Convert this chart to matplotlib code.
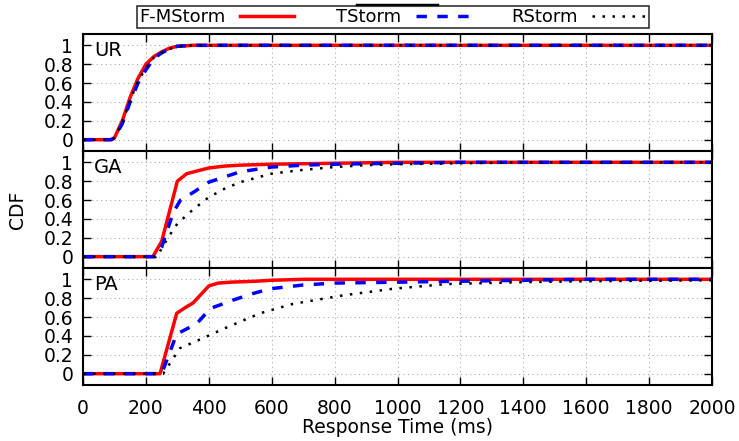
import numpy as np
import matplotlib
matplotlib.use("Agg")
from matplotlib import pyplot as plt
from matplotlib.lines import Line2D

# Series (response time in ms, CDF value)
ur_fm_x = [0, 90, 100, 125, 150, 175, 200, 225, 250, 275, 300, 350, 2000]
ur_fm_y = [0, 0, 0.02, 0.2, 0.45, 0.65, 0.8, 0.88, 0.93, 0.97, 0.99, 1.0, 1.0]
ur_t_x = [0, 90, 100, 125, 150, 175, 200, 225, 250, 275, 300, 350, 2000]
ur_t_y = [0, 0, 0.02, 0.17, 0.4, 0.6, 0.74, 0.86, 0.92, 0.96, 0.99, 1.0, 1.0]
ur_r_x = [0, 90, 100, 125, 150, 175, 200, 225, 250, 275, 300, 350, 2000]
ur_r_y = [0, 0, 0.02, 0.18, 0.42, 0.62, 0.76, 0.87, 0.92, 0.96, 0.99, 1.0, 1.0]

ga_fm_x = [0, 222, 250, 300, 330, 400, 450, 500, 600, 800, 1000, 2000]
ga_fm_y = [0, 0, 0.16, 0.8, 0.88, 0.94, 0.96, 0.97, 0.98, 0.99, 1.0, 1.0]
ga_t_x = [0, 230, 250, 287, 310, 350, 400, 500, 600, 700, 800, 1000, 1200, 2000]
ga_t_y = [0, 0, 0.1, 0.47, 0.6, 0.68, 0.79, 0.9, 0.95, 0.97, 0.98, 0.99, 1.0, 1.0]
ga_r_x = [0, 235, 270, 300, 350, 400, 450, 500, 600, 700, 800, 900, 1000, 1200, 1400, 2000]
ga_r_y = [0, 0, 0.2, 0.35, 0.5, 0.63, 0.72, 0.79, 0.88, 0.92, 0.95, 0.97, 0.98, 0.99, 1.0, 1.0]

pa_fm_x = [0, 245, 298, 325, 350, 400, 430, 470, 550, 600, 700, 2000]
pa_fm_y = [0, 0, 0.64, 0.7, 0.75, 0.93, 0.96, 0.97, 0.98, 0.99, 1.0, 1.0]
pa_t_x = [0, 250, 298, 362, 404, 477, 541, 595, 700, 800, 1000, 1200, 1400, 1600, 2000]
pa_t_y = [0, 0, 0.42, 0.53, 0.69, 0.78, 0.85, 0.9, 0.94, 0.96, 0.97, 0.98, 0.99, 1.0, 1.0]
pa_r_x = [0, 255, 308, 350, 457, 563, 668, 827, 986, 1157, 1400, 1600, 2000]
pa_r_y = [0, 0, 0.27, 0.33, 0.49, 0.64, 0.74, 0.83, 0.9, 0.95, 0.97, 0.98, 0.99]

panels = ["UR", "GA", "PA"]
series = [
    [(ur_fm_x, ur_fm_y), (ur_t_x, ur_t_y), (ur_r_x, ur_r_y)],
    [(ga_fm_x, ga_fm_y), (ga_t_x, ga_t_y), (ga_r_x, ga_r_y)],
    [(pa_fm_x, pa_fm_y), (pa_t_x, pa_t_y), (pa_r_x, pa_r_y)],
]
names = ["F-MStorm", "TStorm", "RStorm"]
styles = [
    dict(color="red", linestyle="-", linewidth=2.5),
    dict(color="blue", linestyle=(0, (3, 3)), linewidth=2.5),
    dict(color="black", linestyle=(0, (1, 3)), linewidth=1.8),
]

W, H = 739, 441
fig = plt.figure(figsize=(W / 100, H / 100), dpi=100)

left, right = 83 / W, 712 / W
top, bottom = 34, 385
ph = (bottom - top) / 3

for i, name in enumerate(panels):
    y0 = 1 - (top + ph * (i + 1)) / H
    ax = fig.add_axes([left, y0, right - left, ph / H])
    lines = []
    for (xs, ys), st, lab in zip(series[i], styles, names):
        ln, = ax.plot(xs, ys, label=lab, **st)
        lines.append(ln)
    ax.set_xlim(0, 2000)
    ax.set_ylim(-0.12, 1.12)
    ax.set_yticks([0, 0.2, 0.4, 0.6, 0.8, 1])
    ax.set_yticklabels(["0", "0.2", "0.4", "0.6", "0.8", "1"])
    ax.set_xticks(np.arange(0, 2001, 200))
    ax.grid(True, linestyle=(0, (1, 3)), color="#aaaaaa", linewidth=0.8)
    ax.tick_params(direction="in", top=True, right=True, length=6, width=1,
                   labelsize=13.5)
    ax.tick_params(axis="y", pad=7)
    ax.tick_params(axis="x", pad=10)
    for sp in ax.spines.values():
        sp.set_linewidth(1.5)
    ax.text(0.018, 0.86, name, transform=ax.transAxes, fontsize=14,
            va="center", ha="left")
    if i < 2:
        ax.tick_params(labelbottom=False)
    else:
        ax.set_xlabel("Response Time (ms)", fontsize=13.5, labelpad=0)
    if i == 1:
        ax.set_ylabel("CDF", fontsize=13.5, labelpad=12)

leg = fig.legend(lines, names, loc="upper center", bbox_to_anchor=(393 / W, 1 - 6 / H),
                 ncol=3, fontsize=13, frameon=True, fancybox=False,
                 markerfirst=False, handlelength=3.0, columnspacing=2.3,
                 borderpad=0.12, handletextpad=0.8, borderaxespad=0)
leg.get_frame().set_edgecolor("black")
leg.get_frame().set_linewidth(1.2)

# thick segment on the legend's top edge, as in the original
fig.add_artist(Line2D([357 / W, 437 / W], [1 - 5 / H, 1 - 5 / H],
                      transform=fig.transFigure, color="black", linewidth=2.5))

fig.savefig("out.png", dpi=100)
